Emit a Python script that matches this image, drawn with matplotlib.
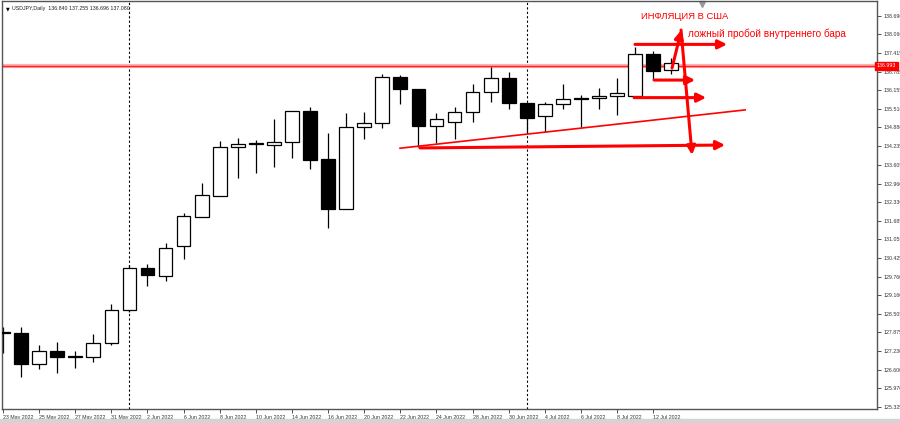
import matplotlib
matplotlib.use("Agg")
import matplotlib.pyplot as plt
import numpy as np

# USDJPY Daily, 23 May 2022 - 13 Jul 2022
dates = ["23 May", "24 May", "25 May", "26 May", "27 May", "30 May", "31 May",
         "1 Jun", "2 Jun", "3 Jun", "6 Jun", "7 Jun", "8 Jun", "9 Jun", "10 Jun",
         "13 Jun", "14 Jun", "15 Jun", "16 Jun", "17 Jun", "20 Jun", "21 Jun",
         "22 Jun", "23 Jun", "24 Jun", "27 Jun", "28 Jun", "29 Jun", "30 Jun",
         "1 Jul", "4 Jul", "5 Jul", "6 Jul", "7 Jul", "8 Jul", "11 Jul", "12 Jul", "13 Jul"]
opens  = [127.87, 127.84, 126.81, 127.24, 127.05, 127.02, 127.50, 128.64, 130.09, 129.80,
          130.84, 131.83, 132.55, 134.20, 134.30, 134.29, 134.37, 135.44, 133.79, 132.10,
          134.89, 135.02, 136.62, 136.18, 134.93, 135.08, 135.42, 136.10, 136.56, 135.71,
          135.28, 135.67, 135.90, 135.89, 135.96, 135.97, 137.39, 136.840]
highs  = [128.06, 128.05, 127.44, 127.55, 127.25, 127.82, 128.85, 130.18, 130.20, 130.94,
          131.97, 132.97, 134.43, 134.51, 134.45, 135.16, 135.45, 135.59, 134.68, 135.38,
          135.41, 136.71, 136.68, 136.20, 135.36, 135.57, 136.37, 136.96, 136.78, 135.72,
          135.76, 136.36, 136.00, 136.24, 136.56, 137.64, 137.50, 137.255]
lows   = [127.17, 126.36, 126.63, 126.49, 126.67, 126.85, 127.46, 128.58, 129.46, 129.64,
          130.37, 131.81, 132.54, 133.14, 133.31, 133.54, 133.83, 133.47, 131.45, 132.09,
          134.48, 134.87, 135.67, 134.20, 134.34, 134.49, 135.08, 135.74, 135.52, 134.68,
          134.74, 135.51, 134.91, 135.51, 135.31, 135.92, 136.50, 136.696]
closes = [127.89, 126.81, 127.23, 127.04, 127.07, 127.50, 128.63, 130.09, 129.83, 130.76,
          131.85, 132.56, 134.20, 134.30, 134.35, 134.37, 135.44, 133.77, 132.10, 134.89,
          135.03, 136.62, 136.18, 134.93, 135.18, 135.42, 136.10, 136.56, 135.71, 135.19,
          135.67, 135.85, 135.85, 135.95, 136.05, 137.39, 136.82, 137.080]

price_ticks = [138.690, 138.060, 137.415, 136.785, 136.155, 135.510, 134.880, 134.235,
               133.605, 132.960, 132.330, 131.685, 131.055, 130.425, 129.760, 129.160,
               128.505, 127.875, 127.230, 126.600, 125.970, 125.325]
bid = 136.993
separators = ["1 Jun", "1 Jul"]

# drawn objects on the chart: (bar, price) -> (bar, price)
arrows = [((34.99, 137.72), (40.09, 137.72)),
          ((36.05, 136.50), (38.32, 136.50)),
          ((34.94, 135.90), (38.93, 135.90)),
          ((37.04, 136.91), (37.56, 138.21)),
          ((37.54, 138.21), (38.15, 133.94)),
          ((23.09, 134.18), (39.98, 134.28))]
trendline = ((21.98, 134.17), (41.09, 135.48))

x = np.arange(len(dates))
o = np.array(opens); c = np.array(closes)
up = c >= o

small = dict(family="Liberation Sans", size=3.8)

fig = plt.figure(figsize=(9, 4.23), dpi=100)
ax = fig.add_axes([2/900, 14/423, 875/900, 408/423])
ax.set_xlim(-0.055, 48.39)
ax.set_ylim(125.256, 139.203)

ax.vlines(x, lows, highs, color="black", lw=0.9, zorder=2)
body = np.maximum(np.abs(c - o), 0.012)
ax.bar(x, body, bottom=np.minimum(o, c), width=0.76,
       color=np.where(up, "white", "black"), edgecolor="black", lw=0.9, zorder=3)

for d in separators:
    ax.axvline(dates.index(d), color="black", lw=0.8, ls=(0, (2, 2)), zorder=1)

ax.axhline(bid, color="#ffb0b0", lw=3, zorder=1)
ax.axhline(bid, color="#ff2020", lw=1, zorder=1)

(tx0, ty0), (tx1, ty1) = trendline
ax.plot([tx0, tx1], [ty0, ty1], color="red", lw=1.2, zorder=4)
for (a, b) in arrows:
    ax.annotate("", xy=b, xytext=a,
                arrowprops=dict(arrowstyle="-|>", color="red", lw=2.2,
                                mutation_scale=13, shrinkA=0, shrinkB=0), zorder=5)

ax.text(35.33, 138.66, "ИНФЛЯЦИЯ В США", color="red", fontsize=6.8,
        family="Liberation Sans", va="center", ha="left")
ax.text(37.93, 138.07, "ложный пробой внутреннего бара", color="red", fontsize=7.2,
        family="Liberation Sans", va="center", ha="left")

ax.text(0.0045, 0.986, "▼", transform=ax.transAxes, fontsize=3.5, va="top", ha="left")
ax.text(0.012, 0.988, "USDJPY,Daily  136.840 137.255 136.696 137.080",
        transform=ax.transAxes, va="top", ha="left", color="#222222", **small)
ax.plot([(702 - 2) / 875], [0.993], marker="v", color="#999999", ms=4,
        transform=ax.transAxes, clip_on=False)

# axes
ax.yaxis.tick_right()
ax.set_yticks(price_ticks)
ax.set_yticklabels([f"{p:.3f}" for p in price_ticks], fontdict=small)
ax.tick_params(axis="y", direction="out", length=3, width=0.6, pad=1.5,
               colors="#333333")
xt = x[::2]
ax.set_xticks(xt)
ax.set_xticklabels([dates[i] + " 2022" for i in xt], ha="left", fontdict=small)
ax.tick_params(axis="x", direction="out", length=3, width=0.6, pad=1.5,
               colors="#333333")
for s in ax.spines.values():
    s.set_color("#555555")
    s.set_linewidth(1)

ax.text(1.0, bid, "136.993", transform=ax.get_yaxis_transform(),
        color="white", va="center", ha="left",
        bbox=dict(boxstyle="square,pad=0.3", fc="red", ec="red"), **small)

fig.patches.append(plt.Rectangle((0, 0), 1, 4.5/423, transform=fig.transFigure,
                                 color="#d4d4d4", zorder=0))

fig.savefig("out.png", dpi=100)
